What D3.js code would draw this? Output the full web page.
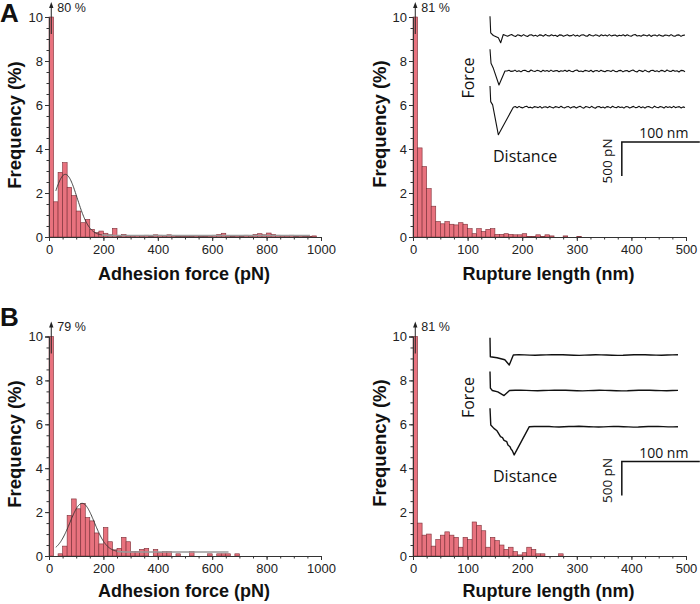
<!DOCTYPE html>
<html><head><meta charset="utf-8">
<script src="https://cdn.jsdelivr.net/npm/d3@7"></script>
<style>body{margin:0;background:#fff}svg{display:block}</style>
</head><body>
<svg id="c" width="700" height="604"></svg>
<script>
// ---- Data (frequency % per bin, 60 equal bins) ----
const adhesionA = [80, 1.6, 2.94, 3.38, 2.26, 1.88, 1.18, 0.65, 0.8, 0.35, 0.2, 0.27, 0.17, 0.1, 0.39,
  0.02, 0.12, 0.05, 0.05, 0.07, 0.05, 0.08, 0.02, 0.1, 0.08, 0.05, 0.1, 0.05, 0.02, 0.02,
  0.03, 0.02, 0.05, 0.02, 0.03, 0.05, 0.08, 0.12, 0.17, 0.05, 0.03, 0.05, 0.03, 0.08, 0.05,
  0.12, 0.15, 0.1, 0.18, 0.12, 0.08, 0.05, 0.05, 0.08, 0.03, 0.05, 0.03, 0.03, 0.05, 0];
const ruptureA = [81, 4.05, 3.2, 2.2, 1.4, 0.7, 0.6, 0.7, 0.58, 0.55, 0.65, 0.58, 0.38, 0.15, 0.38,
  0.25, 0.35, 0.38, 0.12, 0.12, 0.15, 0.12, 0.1, 0.1, 0.15, 0.03, 0.02, 0.1, 0.03, 0.1,
  0.05, 0, 0, 0.05, 0, 0, 0.03, 0, 0, 0, 0, 0, 0, 0, 0, 0, 0, 0, 0, 0, 0, 0, 0, 0, 0, 0, 0, 0, 0, 0];
const adhesionB = [79, 0, 0.1, 0.45, 1.85, 2.6, 2.15, 2.4, 1.75, 1.6, 1.05, 0.55, 1.3, 0.65, 0.28,
  0.35, 0.85, 0.65, 0.2, 0.2, 0.3, 0.35, 0, 0.3, 0.15, 0.2, 0.2, 0, 0.1, 0,
  0, 0.2, 0, 0, 0, 0.1, 0, 0.1, 0.1, 0.1, 0, 0.1, 0, 0, 0, 0, 0, 0, 0, 0, 0, 0, 0, 0, 0, 0, 0, 0, 0, 0];
const ruptureB = [81, 1.5, 0.95, 1.0, 0.45, 0.75, 0.95, 1.1, 0.95, 0.85, 0.4, 0.85, 0.75, 1.55, 1.4,
  1.15, 0.4, 0.85, 0.7, 0.5, 0.3, 0.4, 0.2, 0.05, 0.15, 0.4, 0.3, 0.1, 0.1, 0,
  0, 0, 0.1, 0, 0, 0, 0, 0, 0, 0, 0, 0, 0, 0, 0, 0, 0, 0, 0, 0, 0, 0, 0, 0, 0, 0, 0, 0, 0, 0];

// Gaussian fit parameters: [offset, amplitude, center, sigma, xStart, xDarkEnd, xEnd]
const fitA = [0.07, 2.78, 60, 44, 25, 195, 960];
const fitB = [0.18, 2.22, 122, 45, 25, 250, 660];

const yTicks = [0, 2, 4, 6, 8, 10];
const adhesionTicks = [0, 200, 400, 600, 800, 1000];
const ruptureTicks = [0, 100, 200, 300, 400, 500];

// Force-distance inset traces: [distance nm, force pN] feature points, then baseline noise
const traceA1 = [[0, 284], [0.9, 40], [4.3, 0], [10.7, -34], [13.7, -107], [17, 15], [20, 0]];
const traceA2 = [[0, 319], [1.3, 113], [4.3, 39], [11.5, -206], [19.2, 0]];
const traceA3 = [[0, 313], [0.9, 82], [3.4, 34], [10.7, -406], [29.9, 0]];
const traceB1 = [[0, 254], [0.4, -25], [9, -40], [19, -70], [24.7, -147], [29.9, 0]];
const traceB2 = [[0, 279], [0.5, 35], [3, 0], [10, -20], [18, -75], [25, 0]];
const traceB3 = [[0, 270], [1, 25], [5, -25], [9, -60], [13.5, -147], [16, -160], [18, -200], [21.5, -220],
  [23, -270], [25.7, -294], [27, -330], [28.5, -350], [31, -415], [50.4, 0]];
const noiseA = [8, -12, 4, 15, -3, -14, 10, 2, -9, 13, -4, -15, 7, 11, -7, 3, -13, 9, 5, -10, 14, -2, -8, 11, -5,
  3, -14, 9, 6, -11, 1, 12, -6, -2, 13, -9, 5, -13, 7, 10, -5, -11, 15, -1, -7, 9, 4, -13, 11, -3, 6, -9, 13,
  -6, 2, 8, -12, 5, -4, 10, -8, 12, -3, -10, 6, 14, -7, 1, -12, 9, 3, -6, 11, -14, 4, 7, -9, 12, -2, -11,
  8, 3, -7, 13, -5, -10, 6, 9, -13, 2];
const noiseB = [3, 5, 2, -2, -4, -1, 2, 4, 6, 3, 0, -3, -5, -2, 1, 3, 2, -1, -3, -6, -4, 0, 3, 5, 4, 1, -2, -3, 0, 2];

// ---- Drawing ----
const svg = d3.select('#c');
const barFill = '#e8727e', barStroke = '#7a2e36';
const tickFont = 'Liberation Sans, Arial, sans-serif';

const panels = [
  {vals: adhesionA, xmax: 1000, ticks: adhesionTicks, minor: 50, x0: 49, x1: 321, yb: 237, yt: 17,
   xlabel: 'Adhesion force (pN)', xlabY: 280, ylabX: 14, ylabY: 125, fit: fitA, letter: 'A', letterY: 22},
  {vals: ruptureA, xmax: 500, ticks: ruptureTicks, minor: 25, x0: 413, x1: 686, yb: 237, yt: 17,
   xlabel: 'Rupture length (nm)', xlabY: 280, ylabX: 379, ylabY: 124,
   traces: [traceA1, traceA2, traceA3], noise: noiseA, traceEnd: 250, lw: 1.1},
  {vals: adhesionB, xmax: 1000, ticks: adhesionTicks, minor: 50, x0: 49, x1: 321, yb: 556, yt: 336.5,
   xlabel: 'Adhesion force (pN)', xlabY: 597, ylabX: 14, ylabY: 444, fit: fitB, letter: 'B', letterY: 326},
  {vals: ruptureB, xmax: 500, ticks: ruptureTicks, minor: 25, x0: 413, x1: 686, yb: 556, yt: 336.5,
   xlabel: 'Rupture length (nm)', xlabY: 597, ylabX: 379, ylabY: 443,
   traces: [traceB1, traceB2, traceB3], noise: noiseB, traceEnd: 241, lw: 1.4}
];

panels.forEach(p => {
  const g = svg.append('g');
  const x = d3.scaleLinear().domain([0, p.xmax]).range([p.x0, p.x1]);
  const y = d3.scaleLinear().domain([0, 10]).range([p.yb, p.yt]);
  const bw = p.xmax / p.vals.length;

  // bars
  g.append('g').selectAll('rect').data(p.vals.map((v, i) => ({v, i})).filter(d => d.v > 0))
    .join('rect')
    .attr('x', d => x(d.i * bw))
    .attr('width', x(bw) - x(0))
    .attr('y', d => y(Math.min(d.v, 10)))
    .attr('height', d => p.yb - y(Math.min(d.v, 10)))
    .attr('fill', barFill).attr('stroke', barStroke).attr('stroke-width', 0.6);

  // fit curve
  if (p.fit) {
    const [off, amp, mu, sig, xs, xd, xe] = p.fit;
    const gauss = t => off + amp * Math.exp(-((t - mu) ** 2) / (2 * sig * sig));
    const line = d3.line().x(t => x(t)).y(t => y(gauss(t))).curve(d3.curveBasis);
    g.append('path').attr('d', line(d3.range(xd, xe + 1, 5)))
      .attr('fill', 'none').attr('stroke', '#9a9a9a').attr('stroke-width', 1.6);
    g.append('path').attr('d', line(d3.range(xs, xd + 1, 2)))
      .attr('fill', 'none').attr('stroke', '#333').attr('stroke-width', 0.9);
  }

  // axes
  g.append('g').attr('transform', `translate(${p.x0},0)`)
    .call(d3.axisLeft(y).tickValues(yTicks).tickSize(4).tickPadding(2).tickFormat(d3.format('d')));
  g.append('g').attr('transform', `translate(${p.x0},0)`)
    .call(d3.axisLeft(y).tickValues(d3.range(0, 10.01, 0.5)).tickSize(2.5).tickFormat(''))
    .select('.domain').remove();
  g.append('g').attr('transform', `translate(0,${p.yb})`)
    .call(d3.axisBottom(x).tickValues(p.ticks).tickSize(4).tickPadding(4).tickFormat(d3.format('d')));
  g.append('g').attr('transform', `translate(0,${p.yb})`)
    .call(d3.axisBottom(x).tickValues(d3.range(0, p.xmax + 0.01, p.minor)).tickSize(2.5).tickFormat(''))
    .select('.domain').remove();
  g.selectAll('.domain').attr('stroke', '#333');
  g.selectAll('.tick line').attr('stroke', '#333');
  g.selectAll('.tick text').attr('font-family', tickFont).attr('font-size', 13).attr('fill', '#222');

  // overflow arrow and percent label
  const cx = x(bw / 2);
  g.append('line').attr('x1', cx).attr('x2', cx).attr('y1', p.yt + 17).attr('y2', p.yt - 10)
    .attr('stroke', '#222').attr('stroke-width', 1);
  g.append('path').attr('d', `M${cx},${p.yt - 15} L${cx - 2.2},${p.yt - 9} L${cx + 2.2},${p.yt - 9} Z`).attr('fill', '#222');
  g.append('text').attr('x', cx + 6).attr('y', p.yt - 5.5).text(Math.round(p.vals[0]) + ' %')
    .attr('font-family', tickFont).attr('font-size', 12.5).attr('fill', '#222');

  // axis titles
  g.append('text').attr('x', (p.x0 + p.x1) / 2 - 1).attr('y', p.xlabY).attr('text-anchor', 'middle')
    .attr('font-family', tickFont).attr('font-weight', 'bold').attr('font-size', 18).attr('fill', '#111')
    .text(p.xlabel);
  g.append('text').attr('transform', `translate(${p.ylabX + 18.5 * 0.36},${p.ylabY}) rotate(-90)`)
    .attr('text-anchor', 'middle')
    .attr('font-family', tickFont).attr('font-weight', 'bold').attr('font-size', 18.5).attr('fill', '#111')
    .text('Frequency (%)');

  if (p.letter) {
    svg.append('text').attr('x', 0).attr('y', p.letterY).text(p.letter)
      .attr('font-family', tickFont).attr('font-weight', 'bold').attr('font-size', 26).attr('fill', '#111');
  }

  // inset force curves
  if (p.traces) {
    const ox = 490;
    const ix = d3.scaleLinear().domain([0, 100]).range([ox, ox + 78]);
    const fs = d3.scaleLinear().domain([0, 500]).range([0, -34]);
    const baseOff = [18.5, 54, 90.2];
    p.traces.forEach((tr, k) => {
      const base = p.yt + baseOff[k];
      const pts = tr.slice();
      const dStart = tr[tr.length - 1][0];
      const n = p.noise.length;
      for (let i = 1; i <= n; i++) {
        pts.push([dStart + (p.traceEnd - dStart) * i / n, p.noise[(i + k * 29) % n]]);
      }
      g.append('path').attr('d', d3.line().x(d => ix(d[0])).y(d => base + fs(d[1]))(pts))
        .attr('fill', 'none').attr('stroke', '#111').attr('stroke-width', p.lw).attr('stroke-linejoin', 'round');
    });
    const sbY = p.yt + 125;
    const sx = ix(169);
    g.append('path').attr('d', `M${sx + 78},${sbY} H${sx} V${sbY - fs(500)}`)
      .attr('fill', 'none').attr('stroke', '#111').attr('stroke-width', 1.5);
    const insetFont = 'Open Sans, Noto Sans, sans-serif';
    g.append('text').attr('x', sx + 42).attr('y', sbY - 4).attr('text-anchor', 'middle').text('100 nm')
      .attr('font-family', insetFont).attr('font-size', 14).attr('fill', '#111');
    g.append('text').attr('transform', `translate(${sx - 10},${sbY + 19}) rotate(-90)`).attr('text-anchor', 'middle')
      .text('500 pN').attr('font-family', insetFont).attr('font-size', 13.5).attr('fill', '#111');
    g.append('text').attr('transform', `translate(${474},${p.yt + 61}) rotate(-90)`).attr('text-anchor', 'middle')
      .text('Force').attr('font-family', insetFont).attr('font-size', 16).attr('fill', '#111');
    g.append('text').attr('x', 493).attr('y', p.yt + 145).text('Distance')
      .attr('font-family', insetFont).attr('font-size', 16).attr('fill', '#111');
  }
});
</script>
</body></html>
